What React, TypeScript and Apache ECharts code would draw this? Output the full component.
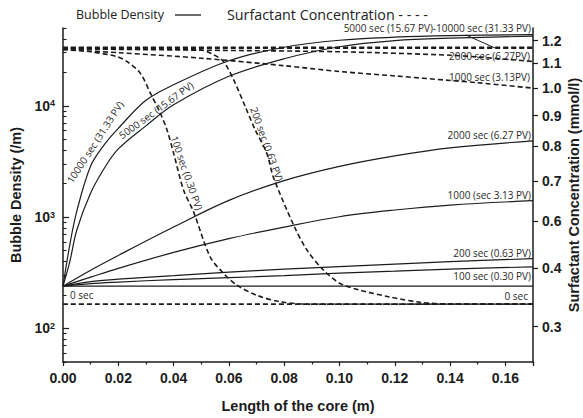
import React, { useEffect, useRef } from "react";
import * as echarts from "echarts";

// ---- data (x in m) ----
const xDense = [0, 0.0025, 0.005, 0.01, 0.015, 0.02, 0.03, 0.04, 0.06, 0.08, 0.1, 0.12, 0.14, 0.17];
const xCoarse = [0, 0.01, 0.02, 0.04, 0.06, 0.08, 0.1, 0.12, 0.14, 0.17];

// Bubble density (/m), solid lines
const bubble10000 = [240, 573, 1135, 2884, 4500, 6270, 11200, 15450, 25400, 33580, 38830, 41330, 42650, 43550];
const bubble5000 = [240, 403, 766, 1648, 2766, 4100, 6606, 10210, 18420, 26480, 33940, 38450, 40480, 42200];
const bubble2000 = [240, 334, 453, 815, 1416, 2127, 2855, 3548, 4190, 4840];
const bubble1000 = [240, 289, 347, 482, 641, 815, 1009, 1159, 1285, 1406];
const bubble200 = [240, 264, 277, 298, 321, 341, 359, 378, 399, 424];
const bubble100 = [240, 253, 261, 275, 286, 298, 314, 327, 341, 358];
const bubble0X = [0, 0.17];
const bubble0 = [240, 240];

// Surfactant concentration (mmol/l), dashed lines
const surf10000X = [0, 0.17];
const surf10000 = [1.17, 1.17];
const surf5000X = [0, 0.17];
const surf5000 = [1.166, 1.166];
const surf2000X = [0, 0.05, 0.1, 0.14, 0.15, 0.17];
const surf2000 = [1.163, 1.157, 1.15, 1.135, 1.127, 1.108];
const surf1000X = [0, 0.02, 0.05, 0.08, 0.1, 0.12, 0.14, 0.15, 0.17];
const surf1000 = [1.159, 1.146, 1.122, 1.09, 1.066, 1.048, 1.03, 1.021, 1.0];
const surf200X = [0, 0.03, 0.05, 0.054, 0.058, 0.0617, 0.0659, 0.0695, 0.0737, 0.0761, 0.0834, 0.0882, 0.0942, 0.1002, 0.1075, 0.1183, 0.1292, 0.14, 0.17];
const surf200 = [1.163, 1.162, 1.158, 1.14, 1.108, 1.033, 0.932, 0.852, 0.779, 0.71, 0.591, 0.537, 0.497, 0.472, 0.46, 0.448, 0.439, 0.436, 0.436];
const surf100X = [0, 0.01, 0.0195, 0.0231, 0.0279, 0.0316, 0.0352, 0.0376, 0.04, 0.0436, 0.0472, 0.0532, 0.058, 0.0629, 0.0701, 0.0785, 0.0882, 0.17];
const surf100 = [1.163, 1.15, 1.129, 1.108, 1.06, 0.981, 0.908, 0.852, 0.779, 0.676, 0.622, 0.523, 0.491, 0.469, 0.451, 0.44, 0.436, 0.436];
const surf0X = [0, 0.17];
const surf0 = [0.436, 0.436];

// ---- axes ticks ----
const leftMajorTicks = [100, 1000, 10000];
const leftMinorTicks = [
  50, 60, 70, 80, 90,
  200, 300, 400, 500, 600, 700, 800, 900,
  2000, 3000, 4000, 5000, 6000, 7000, 8000, 9000,
  20000, 30000, 40000, 50000,
];
const rightTickValues = [1.2, 1.1, 1.0, 0.9, 0.8, 0.7, 0.6, 0.5, 0.4];
const rightTickLabels = ["1.2", "1.1", "1.0", "0.9", "0.8", "0.7", "0.6", "0.4", "0.3"];

const pairs = (xs: number[], ys: number[]) => xs.map((x, i) => [x, ys[i]]);

const INK = "#1c1c1c";
const AXIS_FONT = "Liberation Sans, Arial, sans-serif";
const NOTE_FONT = "Open Sans, sans-serif";

function solid(name: string, xs: number[], ys: number[]) {
  return {
    name,
    type: "line",
    yAxisIndex: 0,
    data: pairs(xs, ys),
    showSymbol: false,
    smooth: 0.35,
    lineStyle: { color: INK, width: 1.2 },
    silent: true,
  };
}
function dashed(name: string, xs: number[], ys: number[]) {
  return {
    name,
    type: "line",
    yAxisIndex: 1,
    data: pairs(xs, ys),
    showSymbol: false,
    smooth: 0.3,
    lineStyle: { color: INK, width: 1.6, type: [5, 3] },
    silent: true,
  };
}

const deg = Math.PI / 180;
function note(text: string, x: number, y: number, align = "right", rot = 0) {
  return {
    type: "text",
    x,
    y,
    rotation: rot * deg,
    silent: true,
    style: {
      text,
      x: 0,
      y: 0,
      align,
      verticalAlign: "middle",
      fontFamily: NOTE_FONT,
      fontSize: 10,
      fill: "#2a2a2a",
    },
  };
}

export default function App() {
  const ref = useRef<HTMLDivElement>(null);
  useEffect(() => {
    const chart = echarts.init(ref.current!, null, { renderer: "svg" });
    const option: any = {
      animation: false,
      backgroundColor: "#ffffff",
      grid: { left: 63, right: 50, top: 28, bottom: 56, outerBoundsMode: "none" },
      xAxis: {
        type: "value",
        min: 0,
        max: 0.17,
        interval: 0.02,
        axisLine: { lineStyle: { color: INK, width: 1.5 } },
        axisTick: { length: 4, lineStyle: { color: INK, width: 1.2 } },
        minorTick: { show: true, splitNumber: 2, length: 2.5, lineStyle: { color: INK, width: 1.2 } },
        splitLine: { show: false },
        axisLabel: {
          showMaxLabel: false,
          margin: 9,
          formatter: (v: number) => (v > 0.165 ? "" : v.toFixed(2)),
          color: INK,
          fontFamily: AXIS_FONT,
          fontWeight: "bold",
          fontSize: 14,
        },
        name: "Length of the core (m)",
        nameLocation: "middle",
        nameGap: 36,
        nameTextStyle: { color: INK, fontFamily: AXIS_FONT, fontWeight: "bold", fontSize: 14.5 },
      },
      yAxis: [
        {
          type: "log",
          logBase: 10,
          min: 50,
          max: 50000,
          position: "left",
          axisLine: { show: true, lineStyle: { color: INK, width: 1.5 } },
          axisTick: { inside: true, length: 6, customValues: leftMajorTicks, lineStyle: { color: INK, width: 1.2 } },
          splitLine: { show: false },
          axisLabel: {
            customValues: leftMajorTicks,
            margin: 8,
            formatter: (v: number) => `{b|10}{s|${Math.round(Math.log10(v))}}`,
            rich: {
              b: { fontFamily: AXIS_FONT, fontWeight: "bold", fontSize: 14, color: INK },
              s: { fontFamily: AXIS_FONT, fontWeight: "bold", fontSize: 9, color: INK, verticalAlign: "top" },
            },
          },
          name: "Bubble Density (/m)",
          nameLocation: "middle",
          nameGap: 38,
          nameRotate: 90,
          nameTextStyle: { color: INK, fontFamily: AXIS_FONT, fontWeight: "bold", fontSize: 14.5 },
        },
        {
          type: "log",
          logBase: 10,
          min: 0.349,
          max: 1.26,
          position: "right",
          axisLine: { show: true, lineStyle: { color: INK, width: 1.5 } },
          axisTick: { length: 5, customValues: rightTickValues, lineStyle: { color: INK, width: 1.2 } },
          splitLine: { show: false },
          axisLabel: {
            customValues: rightTickValues,
            margin: 9,
            formatter: (v: number) => {
              let best = 0;
              rightTickValues.forEach((t, i) => {
                if (Math.abs(t - v) < Math.abs(rightTickValues[best] - v)) best = i;
              });
              return rightTickLabels[best];
            },
            color: INK,
            fontFamily: AXIS_FONT,
            fontWeight: "bold",
            fontSize: 14,
          },
          name: "Surfactant Concentration (mmol/l)",
          nameLocation: "middle",
          nameGap: 33,
          nameMoveOverlap: false,
          nameRotate: 90,
          nameTextStyle: { color: INK, fontFamily: AXIS_FONT, fontWeight: "bold", fontSize: 14.5 },
        },
        {
          type: "log",
          logBase: 10,
          min: 50,
          max: 50000,
          position: "left",
          axisLine: { show: false },
          axisTick: { inside: true, length: 3.5, customValues: leftMinorTicks, lineStyle: { color: INK, width: 1.1 } },
          axisLabel: { show: false },
          splitLine: { show: false },
        },
      ],
      series: [
        solid("10000 sec", xDense, bubble10000),
        solid("5000 sec", xDense, bubble5000),
        solid("2000 sec", xCoarse, bubble2000),
        solid("1000 sec", xCoarse, bubble1000),
        solid("200 sec", xCoarse, bubble200),
        solid("100 sec", xCoarse, bubble100),
        solid("0 sec", bubble0X, bubble0),
        dashed("10000 sec C", surf10000X, surf10000),
        dashed("5000 sec C", surf5000X, surf5000),
        dashed("2000 sec C", surf2000X, surf2000),
        dashed("1000 sec C", surf1000X, surf1000),
        dashed("200 sec C", surf200X, surf200),
        dashed("100 sec C", surf100X, surf100),
        dashed("0 sec C", surf0X, surf0),
      ],
      graphic: [
        {
          type: "text",
          x: 76,
          y: 14.5,
          silent: true,
          style: { text: "Bubble Density", align: "left", verticalAlign: "middle", fontFamily: NOTE_FONT, fontSize: 12.5, fill: "#222" },
        },
        {
          type: "line",
          silent: true,
          shape: { x1: 175, y1: 15, x2: 201, y2: 15 },
          style: { stroke: INK, lineWidth: 1.3 },
        },
        {
          type: "text",
          x: 227,
          y: 14.5,
          silent: true,
          style: { text: "Surfactant Concentration - - - -", align: "left", verticalAlign: "middle", fontFamily: NOTE_FONT, fontSize: 14.3, fill: "#222" },
        },
        {
          type: "line",
          silent: true,
          shape: { x1: 466, y1: 35, x2: 495, y2: 48 },
          style: { stroke: INK, lineWidth: 1 },
        },
        note("5000 sec (15.67 PV)-10000 sec (31.33 PV)", 531, 28),
        note("2000 sec (6.27PV)", 530, 56),
        note("1000 sec (3.13PV)", 530, 76.5),
        note("2000 sec (6.27 PV)", 531, 135),
        note("1000 (sec 3.13 PV)", 531, 195),
        note("200 sec (0.63 PV)", 531, 253),
        note("100 sec (0.30 PV)", 531, 276),
        note("0 sec", 528, 295.5),
        note("0 sec", 70, 295, "left"),
        note("10000 sec (31.33 PV)", 95, 142, "center", 57),
        note("5000 sec (15.67 PV)", 156, 110, "center", 36),
        note("100 sec (0.30 PV)", 187, 173, "center", -71),
        note("200 sec (0.63 PV)", 267, 144, "center", -70),
      ],
    };
    chart.setOption(option);
    return () => chart.dispose();
  }, []);
  return <div ref={ref} style={{ position: "fixed", left: 0, top: 0, width: 583, height: 418 }} />;
}
